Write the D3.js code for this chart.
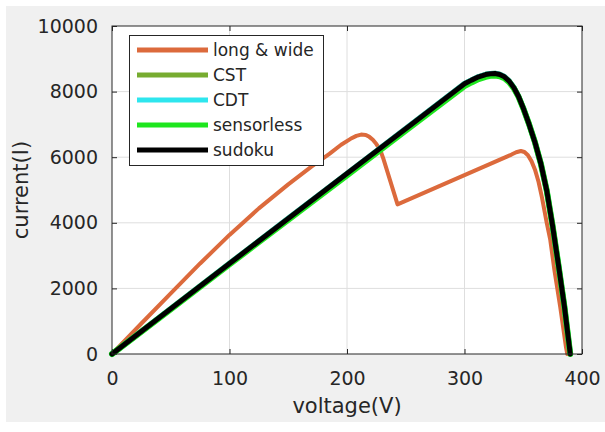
<!DOCTYPE html>
<html>
<head>
  <meta charset="utf-8">
  <style>
    body { margin: 0; background: #fff; }
    svg text { font-family: "DejaVu Sans", sans-serif; fill: #262626; }
    svg .grid { stroke: #dedede; stroke-width: 1px; }
    svg .tick line { stroke: #262626; }
    svg .tick text { font-size: 19px; }
    svg .curve { fill: none; stroke-linejoin: round; stroke-linecap: round; }
  </style>
</head>
<body>
<script src="https://d3js.org/d3.v7.min.js"></script>
<script>
  // data: voltage (V) and current (I)
  var xTicks = [0, 100, 200, 300, 400];
  var yTicks = [0, 2000, 4000, 6000, 8000, 10000];

  var seriesNames  = ["long & wide", "CST", "CDT", "sensorless", "sudoku"];
  var seriesColors = ["#dc6a3c", "#77ac30", "#2ee6ee", "#1ee61e", "#000000"];

  var vLong = [0, 25, 50, 75, 100, 125, 150, 170, 185, 195, 203, 208, 212, 216, 219, 222, 225, 227, 229, 231, 243,
               340, 344, 348, 351, 354, 357, 360, 363, 366, 370, 373, 376.5, 381.5, 386.4, 387.5];
  var iLong = [0, 930, 1850, 2760, 3630, 4440, 5170, 5720, 6100, 6380, 6560, 6650, 6690, 6680, 6620, 6530, 6400, 6290, 6150, 5950, 4560,
               6080, 6150, 6190, 6160, 6060, 5880, 5620, 5250, 4760, 4000, 3480, 2560, 1430, 200, 0];

  var vMain = [0, 50, 100, 150, 200, 250, 300, 306, 312, 318, 322, 326, 330, 334, 338, 342, 346, 350, 355, 360, 365, 370, 375, 380, 385, 390];
  var iCST        = [0, 1380, 2760, 4130, 5500, 6870, 8240, 8350, 8450, 8520, 8545, 8550, 8520, 8450, 8320, 8120, 7850, 7500, 7000, 6450, 5800, 4980, 3900, 2700, 1450, 0];
  var iCDT        = [0, 1380, 2760, 4130, 5500, 6870, 8240, 8350, 8450, 8520, 8545, 8550, 8520, 8450, 8320, 8120, 7850, 7500, 7000, 6450, 5800, 4980, 3900, 2700, 1450, 0];
  var iSensorless = [0, 1360, 2730, 4090, 5450, 6810, 8170, 8280, 8380, 8450, 8480, 8490, 8470, 8410, 8290, 8100, 7840, 7490, 7000, 6450, 5800, 4980, 3900, 2700, 1450, 0];
  var iSudoku     = [0, 1380, 2760, 4130, 5500, 6870, 8240, 8350, 8450, 8520, 8545, 8550, 8520, 8450, 8320, 8120, 7850, 7500, 7000, 6450, 5800, 4980, 3900, 2700, 1450, 0];

  var W = 605, H = 432;
  var plot = { left: 112, right: 582, top: 26, bottom: 354 };

  var svg = d3.select("body").append("svg")
      .attr("width", W)
      .attr("height", H);

  // figure background
  svg.append("rect")
      .attr("x", 6).attr("y", 6)
      .attr("width", W - 6).attr("height", 416)
      .attr("fill", "#f0f0f0");

  svg.append("rect")
      .attr("x", plot.left).attr("y", plot.top)
      .attr("width", plot.right - plot.left)
      .attr("height", plot.bottom - plot.top)
      .attr("fill", "#fff");

  var xScale = d3.scaleLinear().domain([0, 400]).range([plot.left, plot.right]);
  var yScale = d3.scaleLinear().domain([0, 10000]).range([plot.bottom, plot.top]);

  // grid
  svg.append("g").selectAll("line.vx")
    .data(xTicks.slice(1, -1))
    .enter().append("line")
      .classed("grid", true)
      .attr("x1", function (d) { return xScale(d); })
      .attr("x2", function (d) { return xScale(d); })
      .attr("y1", plot.top)
      .attr("y2", plot.bottom);

  svg.append("g").selectAll("line.hy")
    .data(yTicks.slice(1, -1))
    .enter().append("line")
      .classed("grid", true)
      .attr("y1", function (d) { return yScale(d); })
      .attr("y2", function (d) { return yScale(d); })
      .attr("x1", plot.left)
      .attr("x2", plot.right);

  // axes, ticks pointing inward
  var fmt = d3.format("d");
  svg.append("g")
      .attr("transform", "translate(0," + plot.bottom + ")")
      .call(d3.axisBottom(xScale).tickValues(xTicks).tickFormat(fmt).tickSize(-5).tickPadding(18));
  svg.append("g")
      .attr("transform", "translate(" + plot.left + ",0)")
      .call(d3.axisLeft(yScale).tickValues(yTicks).tickFormat(fmt).tickSize(-5).tickPadding(14));
  svg.append("g")
      .attr("transform", "translate(0," + plot.top + ")")
      .call(d3.axisTop(xScale).tickValues(xTicks).tickSize(-5).tickFormat(""));
  svg.append("g")
      .attr("transform", "translate(" + plot.right + ",0)")
      .call(d3.axisRight(yScale).tickValues(yTicks).tickSize(-5).tickFormat(""));

  svg.selectAll(".domain").remove();
  svg.selectAll("g.tick text").attr("font-family", null).attr("font-size", null);

  // curves
  var line = d3.line()
      .x(function (d) { return xScale(d[0]); })
      .y(function (d) { return yScale(d[1]); });

  var curves = [
    { v: vLong, i: iLong, w: 4 },
    { v: vMain, i: iCST, w: 5.5 },
    { v: vMain, i: iCDT, w: 5.5 },
    { v: vMain, i: iSensorless, w: 6 },
    { v: vMain, i: iSudoku, w: 5 }
  ];

  curves.forEach(function (c, k) {
    svg.append("path")
        .classed("curve", true)
        .attr("d", line(d3.zip(c.v, c.i)))
        .attr("stroke", seriesColors[k])
        .attr("stroke-width", c.w);
  });

  // box
  svg.append("rect")
      .attr("x", plot.left).attr("y", plot.top)
      .attr("width", plot.right - plot.left)
      .attr("height", plot.bottom - plot.top)
      .attr("fill", "none")
      .attr("stroke", "#262626")
      .attr("stroke-width", 1);

  // legend
  var legend = svg.append("g");
  legend.append("rect")
      .attr("x", 129.5).attr("y", 35.5)
      .attr("width", 194).attr("height", 130)
      .attr("fill", "#fff")
      .attr("stroke", "#262626")
      .attr("stroke-width", 1);

  var rows = legend.selectAll("g.row")
    .data(seriesNames)
    .enter().append("g")
      .attr("transform", function (d, k) { return "translate(0," + (50 + k * 25) + ")"; });

  rows.append("line")
      .attr("x1", 137).attr("x2", 208)
      .attr("y1", 0).attr("y2", 0)
      .attr("stroke", function (d, k) { return seriesColors[k]; })
      .attr("stroke-width", 5);

  rows.append("text")
      .attr("x", 213)
      .attr("dy", "0.36em")
      .style("font-size", "17px")
      .text(function (d) { return d; });

  // axis labels
  svg.append("text")
      .attr("x", (plot.left + plot.right) / 2)
      .attr("y", 413)
      .style("text-anchor", "middle")
      .style("font-size", "21px")
      .text("voltage(V)");

  svg.append("text")
      .attr("transform", "translate(28," + ((plot.top + plot.bottom) / 2) + ") rotate(-90)")
      .style("text-anchor", "middle")
      .style("font-size", "21px")
      .text("current(I)");
</script>
</body>
</html>
